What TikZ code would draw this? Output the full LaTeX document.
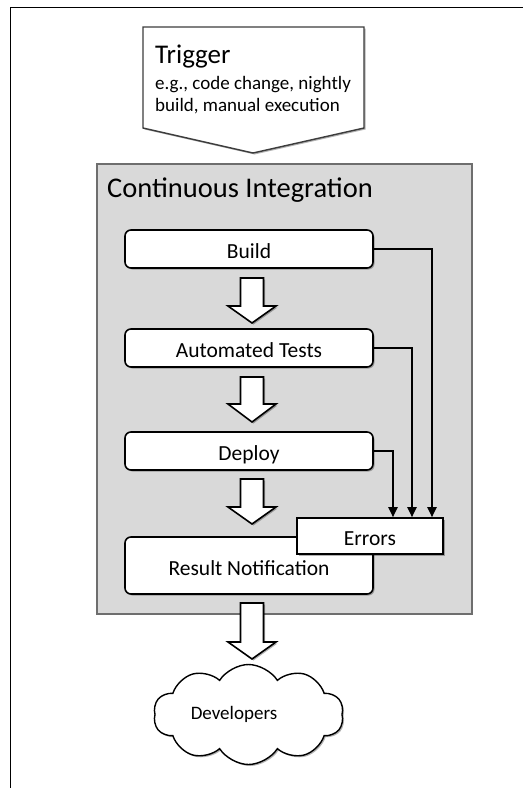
\documentclass[tikz,border=0pt]{standalone}
\usepackage{fontspec}
\setmainfont{Carlito}
\usetikzlibrary{shapes.symbols,shadows,arrows.meta,calc}
\definecolor{cifill}{RGB}{217,217,217}
\definecolor{ciedge}{RGB}{110,110,110}
\definecolor{trigedge}{RGB}{60,60,60}
\newcommand\blkarrow[4]{%
  \draw[blk] (#1-11.5,#2) -- (#1+11.5,#2) -- (#1+11.5,#3) -- (#1+24,#3) -- (#1,#4) -- (#1-24,#3) -- (#1-11.5,#3) -- cycle;}
\begin{document}
\begin{tikzpicture}[x=1pt,y=-1pt,
  shade/.style={drop shadow={shadow xshift=1.5pt,shadow yshift=-1.5pt,opacity=0.3,fill=black}},
  stagebox/.style={draw=black,line width=1.6pt,fill=white,rounded corners=6pt,
    minimum width=248pt,minimum height=38pt,inner sep=0pt,
    text height=19pt,text depth=0pt,font=\fontsize{21.5}{26}\selectfont,shade},
  errbox/.style={draw=black,line width=1.6pt,fill=white,minimum width=146pt,minimum height=36pt,
    inner sep=0pt,text height=18pt,text depth=0pt,font=\fontsize{21.5}{26}\selectfont,shade},
  errarrow/.style={line width=1.9pt,-{Triangle[width=9pt,length=10pt]}},
  blk/.style={draw=black,line width=1.6pt,fill=white,line join=miter,shade},
]
\useasboundingbox (0,0) rectangle (523,788);
% frame
\draw[line width=1.8pt,black] (10.5,788) -- (10.5,7.5) -- (523,7.5);
% trigger
\draw[draw=trigedge,line width=1.4pt,fill=white,shade] (143,27) -- (364,27) -- (364,128) -- (253,153) -- (143,128) -- cycle;
\node[anchor=base west,inner sep=0pt,font=\fontsize{27}{32}\selectfont] (trig) at (155,63) {Trigger};
\node[anchor=base west,inner sep=0pt,font=\fontsize{19}{23}\selectfont] (trig1) at (155,89) {e.g., code change, nightly};
\node[anchor=base west,inner sep=0pt,font=\fontsize{19}{23}\selectfont] (trig2) at (155,111) {build, manual execution};
% CI container
\node[draw=ciedge,line width=1.8pt,fill=cifill,anchor=north west,minimum width=375pt,minimum height=450pt,inner sep=0pt,shade] (ci) at (96,163) {};
\node[anchor=base west,inner sep=0pt,font=\fontsize{28.5}{34}\selectfont] (cilabel) at (107,197.5) {Continuous Integration};
% stages
\node[stagebox] (build) at (249,249) {Build};
\node[stagebox] (tests) at (249,348) {Automated Tests};
\node[stagebox] (deploy) at (249,451) {Deploy};
\node[stagebox,minimum height=57pt] (result) at (249,565.5) {Result Notification};
\node[errbox] (errors) at (370,536) {Errors};
% error connectors
\draw[errarrow] (build.east) -| ([xshift=62pt]errors.north);
\draw[errarrow] (tests.east) -| ([xshift=42pt]errors.north);
\draw[errarrow] (deploy.east) -| ([xshift=23pt]errors.north);
% block arrows
\blkarrow{252}{278}{306}{323}
\blkarrow{252}{377}{404}{422}
\blkarrow{252}{479}{507}{524}
\blkarrow{252}{603}{642}{659}
% developers
\node[cloud,draw=black,line width=1.4pt,fill=white,cloud puffs=10,cloud puff arc=115,aspect=1.8,
  minimum width=190pt,minimum height=100pt,inner sep=0pt,shade] (cloud) at (248.5,714.5) {};
\node[anchor=base,inner sep=0pt,font=\fontsize{19}{23}\selectfont] (dev) at (234,719.3) {Developers};
\end{tikzpicture}
\end{document}
